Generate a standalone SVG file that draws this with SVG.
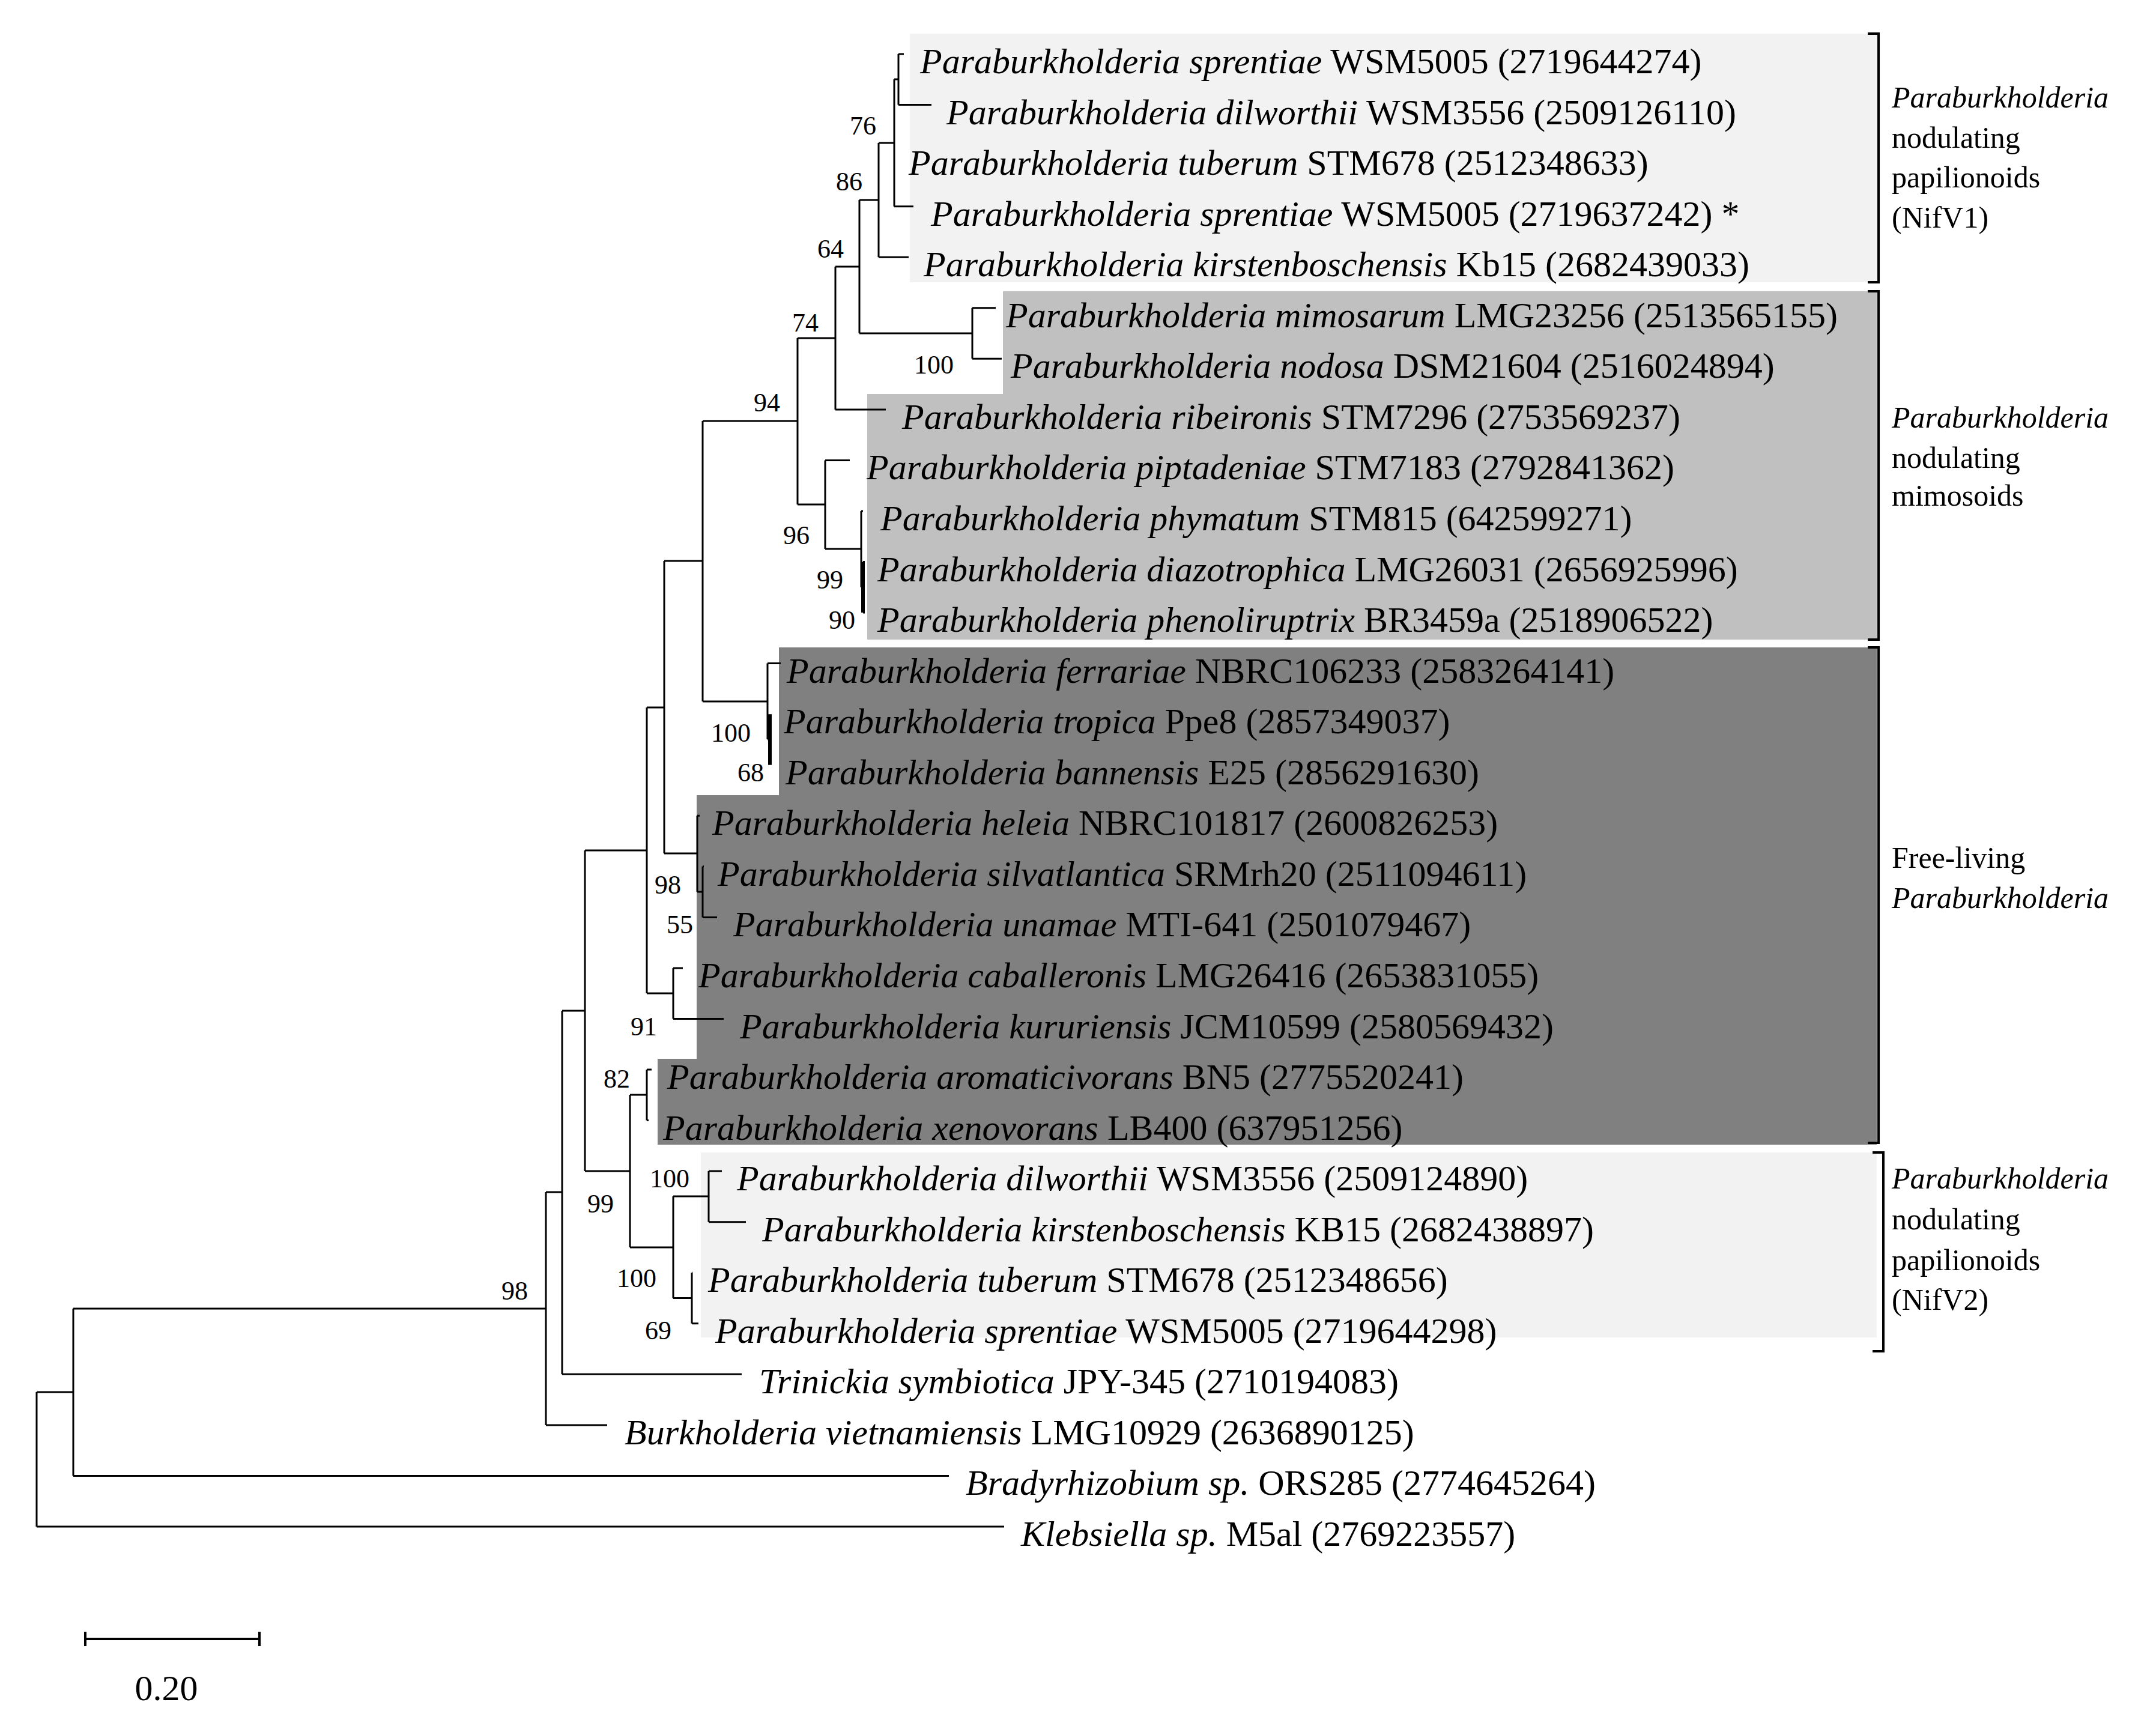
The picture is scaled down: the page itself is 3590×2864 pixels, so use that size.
<svg xmlns="http://www.w3.org/2000/svg" width="3590" height="2864" viewBox="0 0 3590 2864">
<style>
.t{font-family:"Liberation Serif",serif;font-size:60px;fill:#000}
.b{font-family:"Liberation Serif",serif;font-size:44px;fill:#000;text-anchor:middle}
.g{font-family:"Liberation Serif",serif;font-size:50px;fill:#000}
.e{stroke:#000;stroke-width:3;fill:none}
.k{stroke:#000;stroke-width:6;fill:none}
.br{stroke:#000;stroke-width:4;fill:none}
</style>
<rect width="3590" height="2864" fill="#fff"/>
<g id="boxes">
<rect x="1515" y="56" width="1610" height="414" fill="#f2f2f2"/>
<polygon points="1670,485 3125,485 3125,1065 1444,1065 1444,656 1670,656" fill="#c0c0c0"/>
<polygon points="1297,1078 3125,1078 3125,1906 1095,1906 1095,1763 1160,1763 1160,1324 1297,1324" fill="#808080"/>
<rect x="1167" y="1919" width="1958" height="308" fill="#f2f2f2"/>
</g>
<g id="connectors">
<path class="e" d="M1496,90V174.6M1496,90H1505M1496,174.6H1551"/>
<path class="e" d="M1489,132V343.7M1489,132H1496M1489,259.1H1490M1489,343.7H1521"/>
<path class="e" d="M1463,238V428.2M1463,238H1489M1463,428.2H1513"/>
<path class="e" d="M1619,512.8V597.3M1619,512.8H1658M1619,597.3H1668"/>
<path class="e" d="M1431,333V555M1431,333H1463M1431,555H1619"/>
<path class="e" d="M1391,444V681.9M1391,444H1431M1391,681.9H1475"/>
<path class="k" d="M1437,935.5V1020"/>
<path class="e" d="M1437,935.5H1440M1437,1020H1440"/>
<path class="e" d="M1434,851V978M1434,851H1437M1434,978H1437"/>
<path class="e" d="M1374,766.4V914M1374,766.4H1415M1374,914H1434"/>
<path class="e" d="M1328,563V840M1328,563H1391M1328,840H1374"/>
<path class="k" d="M1282,1189.2V1273.7"/>
<path class="e" d="M1278,1104.6V1231M1278,1104.6H1300M1278,1231H1282"/>
<path class="e" d="M1170,701V1168M1170,701H1328M1170,1168H1278"/>
<path class="e" d="M1170,1442.8V1527.4M1170,1442.8H1172M1170,1527.4H1194"/>
<path class="e" d="M1161,1358.3V1485M1161,1358.3H1165M1161,1485H1170"/>
<path class="e" d="M1106,934V1421M1106,934H1170M1106,1421H1161"/>
<path class="e" d="M1121,1611.9V1696.5M1121,1611.9H1137M1121,1696.5H1205"/>
<path class="e" d="M1077,1178V1654M1077,1178H1106M1077,1654H1121"/>
<path class="e" d="M1077,1781V1865.6M1077,1781H1085M1077,1865.6H1080"/>
<path class="e" d="M1180,1950.1V2034.7M1180,1950.1H1202M1180,2034.7H1242"/>
<path class="e" d="M1152,2119.2V2203.8M1152,2119.2H1153M1152,2203.8H1163"/>
<path class="e" d="M1121,1992V2161.5M1121,1992H1180M1121,2161.5H1152"/>
<path class="e" d="M1049,1823V2077M1049,1823H1077M1049,2077H1121"/>
<path class="e" d="M974,1416V1950M974,1416H1077M974,1950H1049"/>
<path class="e" d="M936,1683V2288.3M936,1683H974M936,2288.3H1235"/>
<path class="e" d="M909,1985V2372.9M909,1985H936M909,2372.9H1011"/>
<path class="e" d="M122,2179V2457.4M122,2179H909M122,2457.4H1580"/>
<path class="e" d="M61,2318V2542M61,2318H122M61,2542H1672"/>
</g>
<g id="brackets">
<path class="br" d="M3110,56H3128V470H3110"/>
<path class="br" d="M3110,485H3128V1065H3110"/>
<path class="br" d="M3110,1078H3128V1903H3110"/>
<path class="br" d="M3118,1919H3136V2250H3118"/>
</g>
<g id="tips">
<text class="t" x="1532" y="122"><tspan font-style="italic">Paraburkholderia sprentiae</tspan> WSM5005 (2719644274)</text>
<text class="t" x="1576" y="206.6"><tspan font-style="italic">Paraburkholderia dilworthii</tspan> WSM3556 (2509126110)</text>
<text class="t" x="1513" y="291.1"><tspan font-style="italic">Paraburkholderia tuberum</tspan> STM678 (2512348633)</text>
<text class="t" x="1550" y="375.7"><tspan font-style="italic">Paraburkholderia sprentiae</tspan> WSM5005 (2719637242) *</text>
<text class="t" x="1538" y="460.2"><tspan font-style="italic">Paraburkholderia kirstenboschensis</tspan> Kb15 (2682439033)</text>
<text class="t" x="1675" y="544.8"><tspan font-style="italic">Paraburkholderia mimosarum</tspan> LMG23256 (2513565155)</text>
<text class="t" x="1683" y="629.3"><tspan font-style="italic">Paraburkholderia nodosa</tspan> DSM21604 (2516024894)</text>
<text class="t" x="1502" y="713.9"><tspan font-style="italic">Paraburkholderia ribeironis</tspan> STM7296 (2753569237)</text>
<text class="t" x="1443" y="798.4"><tspan font-style="italic">Paraburkholderia piptadeniae</tspan> STM7183 (2792841362)</text>
<text class="t" x="1466" y="883"><tspan font-style="italic">Paraburkholderia phymatum</tspan> STM815 (642599271)</text>
<text class="t" x="1461" y="967.5"><tspan font-style="italic">Paraburkholderia diazotrophica</tspan> LMG26031 (2656925996)</text>
<text class="t" x="1461" y="1052"><tspan font-style="italic">Paraburkholderia phenoliruptrix</tspan> BR3459a (2518906522)</text>
<text class="t" x="1310" y="1136.6"><tspan font-style="italic">Paraburkholderia ferrariae</tspan> NBRC106233 (2583264141)</text>
<text class="t" x="1305" y="1221.2"><tspan font-style="italic">Paraburkholderia tropica</tspan> Ppe8 (2857349037)</text>
<text class="t" x="1308" y="1305.7"><tspan font-style="italic">Paraburkholderia bannensis</tspan> E25 (2856291630)</text>
<text class="t" x="1186" y="1390.3"><tspan font-style="italic">Paraburkholderia heleia</tspan> NBRC101817 (2600826253)</text>
<text class="t" x="1195" y="1474.8"><tspan font-style="italic">Paraburkholderia silvatlantica</tspan> SRMrh20 (2511094611)</text>
<text class="t" x="1221" y="1559.4"><tspan font-style="italic">Paraburkholderia unamae</tspan> MTI-641 (2501079467)</text>
<text class="t" x="1163" y="1643.9"><tspan font-style="italic">Paraburkholderia caballeronis</tspan> LMG26416 (2653831055)</text>
<text class="t" x="1232" y="1728.5"><tspan font-style="italic">Paraburkholderia kururiensis</tspan> JCM10599 (2580569432)</text>
<text class="t" x="1111" y="1813"><tspan font-style="italic">Paraburkholderia aromaticivorans</tspan> BN5 (2775520241)</text>
<text class="t" x="1104" y="1897.6"><tspan font-style="italic">Paraburkholderia xenovorans</tspan> LB400 (637951256)</text>
<text class="t" x="1227" y="1982.1"><tspan font-style="italic">Paraburkholderia dilworthii</tspan> WSM3556 (2509124890)</text>
<text class="t" x="1269" y="2066.7"><tspan font-style="italic">Paraburkholderia kirstenboschensis</tspan> KB15 (2682438897)</text>
<text class="t" x="1179" y="2151.2"><tspan font-style="italic">Paraburkholderia tuberum</tspan> STM678 (2512348656)</text>
<text class="t" x="1191" y="2235.8"><tspan font-style="italic">Paraburkholderia sprentiae</tspan> WSM5005 (2719644298)</text>
<text class="t" x="1264" y="2320.3"><tspan font-style="italic">Trinickia symbiotica</tspan> JPY-345 (2710194083)</text>
<text class="t" x="1040" y="2404.9"><tspan font-style="italic">Burkholderia vietnamiensis</tspan> LMG10929 (2636890125)</text>
<text class="t" x="1608" y="2489.4"><tspan font-style="italic">Bradyrhizobium sp.</tspan> ORS285 (2774645264)</text>
<text class="t" x="1700" y="2574"><tspan font-style="italic">Klebsiella sp.</tspan> M5al (2769223557)</text>
</g>
<g id="bootstrap">
<text class="b" x="1437" y="224">76</text>
<text class="b" x="1414" y="317">86</text>
<text class="b" x="1383" y="429">64</text>
<text class="b" x="1341" y="552">74</text>
<text class="b" x="1277" y="685">94</text>
<text class="b" x="1555" y="622">100</text>
<text class="b" x="1326" y="906">96</text>
<text class="b" x="1382" y="980">99</text>
<text class="b" x="1402" y="1047">90</text>
<text class="b" x="1217" y="1235">100</text>
<text class="b" x="1250" y="1301">68</text>
<text class="b" x="1112" y="1488">98</text>
<text class="b" x="1132" y="1554">55</text>
<text class="b" x="1072" y="1724">91</text>
<text class="b" x="1027" y="1811">82</text>
<text class="b" x="1115" y="1977">100</text>
<text class="b" x="1000" y="2019">99</text>
<text class="b" x="1060" y="2143">100</text>
<text class="b" x="1096" y="2230">69</text>
<text class="b" x="857" y="2164">98</text>
</g>
<g id="group-labels">
<text class="g" x="3150" y="179"><tspan font-style="italic">Paraburkholderia</tspan><tspan x="3150" y="246">nodulating</tspan><tspan x="3150" y="312">papilionoids</tspan><tspan x="3150" y="379">(NifV1)</tspan></text>
<text class="g" x="3150" y="712"><tspan font-style="italic">Paraburkholderia</tspan><tspan x="3150" y="779">nodulating</tspan><tspan x="3150" y="842">mimosoids</tspan></text>
<text class="g" x="3150" y="1445">Free-living<tspan x="3150" y="1512" font-style="italic">Paraburkholderia</tspan></text>
<text class="g" x="3150" y="1979"><tspan font-style="italic">Paraburkholderia</tspan><tspan x="3150" y="2047">nodulating</tspan><tspan x="3150" y="2115">papilionoids</tspan><tspan x="3150" y="2181">(NifV2)</tspan></text>
</g>
<g id="scale">
<path class="br" d="M142,2729H432M142,2717V2741M432,2717V2741"/>
<text class="t" x="277" y="2831" text-anchor="middle">0.20</text>
</g>
</svg>
